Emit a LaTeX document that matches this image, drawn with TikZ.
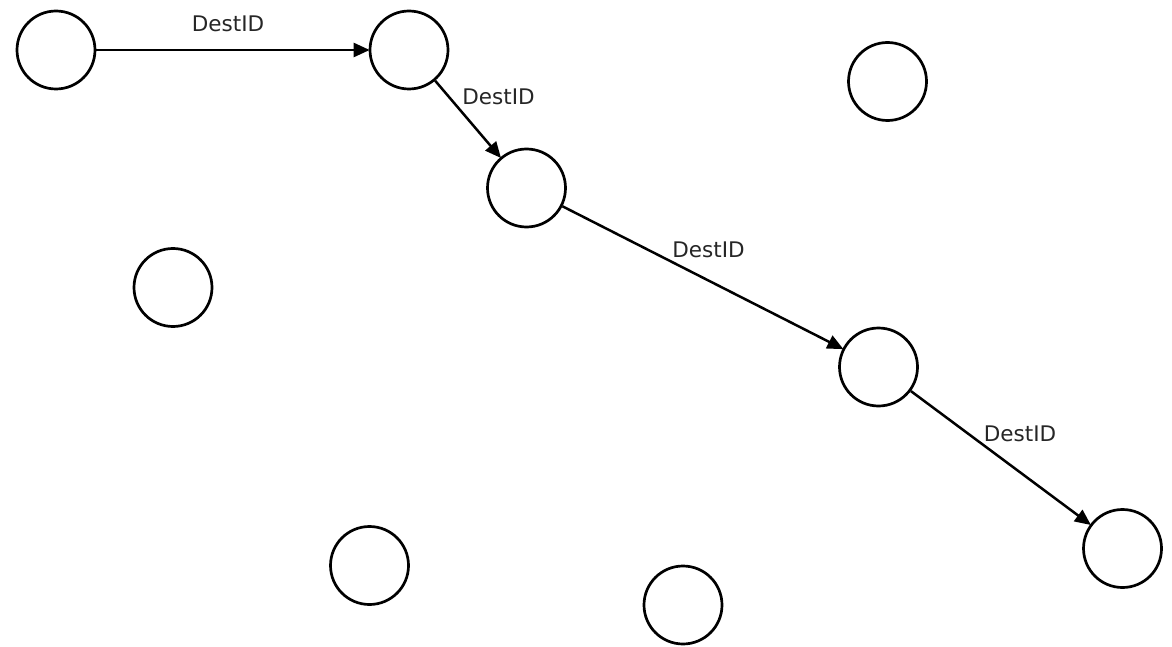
\documentclass[tikz,border=0pt]{standalone}
\usepackage{fontspec}
\setmainfont{DejaVu Sans}
\usetikzlibrary{arrows.meta}
\begin{document}
\begin{tikzpicture}[x=1pt,y=-1pt,
  nd/.style={circle,draw=black,line width=2.7pt,minimum size=78pt,inner sep=0pt},
  link/.style={line width=2.5pt,-{Triangle[length=16pt,width=14pt]},shorten >=-1pt},
  lbl/.style={font=\fontsize{21.5}{24}\selectfont,text=black!85,inner sep=0pt}]
\useasboundingbox (0,0) rectangle (1172,647);
\node[nd] (a) at (56,50) {};
\node[nd] (b) at (409,50) {};
\node[nd] (c) at (887.5,81.5) {};
\node[nd] (d) at (526.5,188) {};
\node[nd] (e) at (173,287.5) {};
\node[nd] (f) at (878.5,367) {};
\node[nd] (g) at (1122.5,548.5) {};
\node[nd] (h) at (369.5,565.5) {};
\node[nd] (i) at (683,605) {};
\draw[link] (a) -- (b);
\draw[link] (b) -- (d);
\draw[link] (d) -- (f);
\draw[link] (f) -- (g);
\node[lbl] (l1) at (228,24) {DestID};
\node[lbl] (l2) at (498.5,96.5) {DestID};
\node[lbl] (l3) at (708.5,249.5) {DestID};
\node[lbl] (l4) at (1020,434) {DestID};
\end{tikzpicture}
\end{document}
